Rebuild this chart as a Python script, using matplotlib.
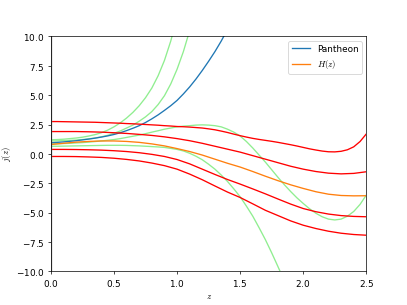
import numpy as np
from matplotlib import pyplot as plt

plt.rcParams['mathtext.fontset'] = 'cm'
plt.rcParams['axes.formatter.use_mathtext'] = True

# redshift grids
z10 = np.round(np.arange(0, 2.51, 0.1), 2)
z05 = np.round(np.arange(0, 2.51, 0.05), 2)

# Pantheon reconstruction (0.05 grid)
j_pantheon = [0.95, 0.98, 1.02, 1.07, 1.12, 1.19, 1.26, 1.34, 1.43, 1.53, 1.65,
              1.8, 1.98, 2.18, 2.4, 2.67, 2.98, 3.32, 3.7, 4.1, 4.55, 5.1, 5.7,
              6.37, 7.1, 7.88, 8.7, 9.6, 10.6]
# H(z) reconstruction (0.1 grid)
j_hz = [0.8, 0.9, 1.0, 1.06, 1.1, 1.1, 1.06, 0.98, 0.85, 0.68, 0.45, 0.2, -0.1,
        -0.45, -0.8, -1.12, -1.5, -1.9, -2.28, -2.63, -2.94, -3.22, -3.43, -3.54,
        -3.57, -3.56]

# red curves
red_1 = [2.75, 2.75, 2.74, 2.73, 2.72, 2.71, 2.7, 2.69, 2.67, 2.65, 2.63, 2.61,
         2.58, 2.56, 2.53, 2.5, 2.47, 2.44, 2.4, 2.37, 2.33, 2.31, 2.28, 2.24,
         2.2, 2.13, 2.05, 1.94, 1.82, 1.68, 1.55, 1.43, 1.32, 1.23, 1.15, 1.07,
         0.98, 0.88, 0.78, 0.67, 0.55, 0.43, 0.33, 0.24, 0.18, 0.17, 0.22, 0.35,
         0.6, 1.05, 1.7]  # 0.05 grid
red_2 = [1.9, 1.9, 1.9, 1.88, 1.85, 1.8, 1.74, 1.66, 1.57, 1.45, 1.3, 1.12, 0.9,
         0.65, 0.4, 0.15, -0.15, -0.45, -0.75, -1.05, -1.3, -1.5, -1.64, -1.7,
         -1.66, -1.52]
red_3 = [0.38, 0.38, 0.37, 0.35, 0.32, 0.27, 0.2, 0.1, -0.04, -0.22, -0.48,
         -0.85, -1.3, -1.75, -2.18, -2.57, -2.98, -3.4, -3.84, -4.27, -4.65,
         -4.92, -5.12, -5.25, -5.32, -5.35]
red_4 = [-0.22, -0.22, -0.23, -0.26, -0.3, -0.37, -0.47, -0.6, -0.78, -1.0, -1.3,
         -1.72, -2.2, -2.73, -3.25, -3.71, -4.25, -4.8, -5.25, -5.7, -6.07, -6.35,
         -6.58, -6.75, -6.86, -6.92]

# green curves
green_1 = [1.2, 1.22, 1.25, 1.3, 1.35, 1.42, 1.52, 1.64, 1.8, 2.02, 2.3, 2.64,
           3.05, 3.53, 4.1, 4.78, 5.6, 6.65, 7.95, 9.6, 11.6]  # 0.05 grid
green_2 = [1.1, 1.11, 1.13, 1.15, 1.18, 1.22, 1.28, 1.35, 1.45, 1.58, 1.75, 1.95,
           2.2, 2.45, 2.78, 3.15, 3.6, 4.2, 4.95, 5.95, 7.2, 8.7, 10.5]  # 0.05 grid
green_3 = [0.85, 0.87, 0.88, 0.9, 0.93, 0.96, 1.0, 1.05, 1.1, 1.16, 1.22, 1.3,
           1.4, 1.5, 1.6, 1.72, 1.85, 1.97, 2.1, 2.2, 2.3, 2.36, 2.4, 2.45, 2.47,
           2.45, 2.4, 2.3, 2.1, 1.85, 1.52, 1.05, 0.5, -0.1, -0.7, -1.35, -2.0,
           -2.62, -3.2, -3.74, -4.22, -4.67, -5.05, -5.35, -5.55, -5.62, -5.55,
           -5.3, -4.9, -4.3, -3.5]  # 0.05 grid
green_4 = [0.65, 0.65, 0.66, 0.67, 0.68, 0.69, 0.7, 0.71, 0.72, 0.73, 0.73, 0.73,
           0.72, 0.7, 0.68, 0.65, 0.62, 0.59, 0.55, 0.47, 0.38, 0.25, 0.05, -0.2,
           -0.5, -0.88, -1.3, -1.8, -2.35, -2.98, -3.65, -4.45, -5.3, -6.28, -7.3,
           -8.42, -9.6, -10.8]  # 0.05 grid

fig, ax = plt.subplots(figsize=(6.4, 4.8), dpi=63.6)

for g in [green_1, green_2, green_3, green_4]:
    ax.plot(z05[:len(g)], g, color='lightgreen')

ax.plot(z05[:len(j_pantheon)], j_pantheon, color='C0', label='Pantheon')
ax.plot(z10, j_hz, color='C1', label='$H(z)$')

ax.plot(z05, red_1, color='red')
for r in [red_2, red_3, red_4]:
    ax.plot(z10, r, color='red')

ax.axvline(0, color='gray')
ax.set_xlim(0, 2.5)
ax.set_ylim(-10, 10)
ax.set_xlabel('$z$')
ax.set_ylabel('$j(z)$')
ax.legend(loc='upper right')

fig.savefig('out.png', dpi=63.6)
